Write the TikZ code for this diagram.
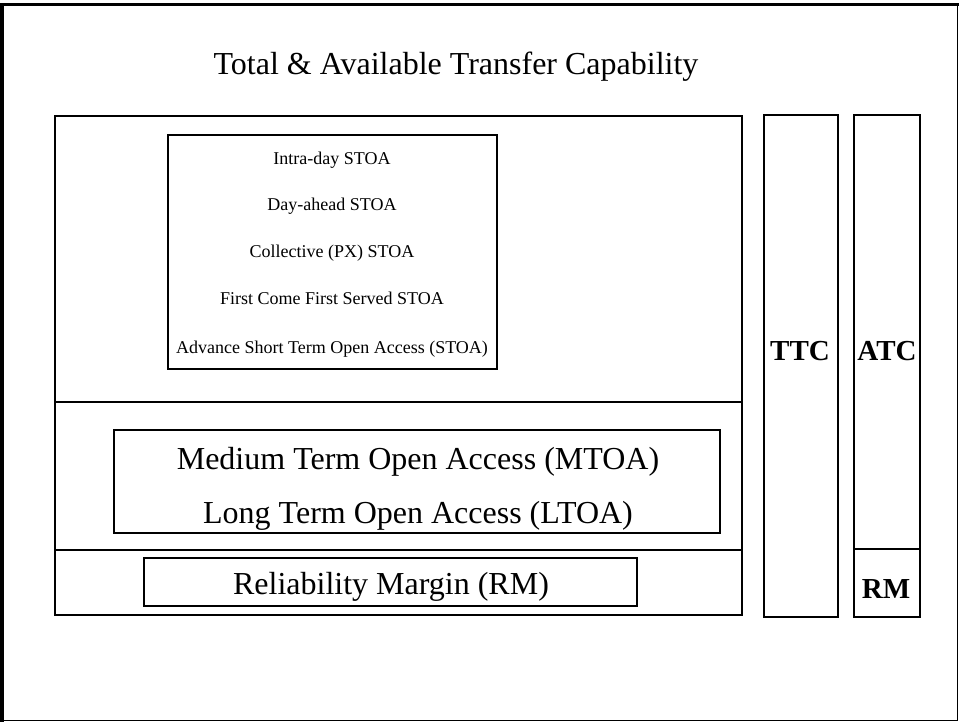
\documentclass[tikz,border=0pt]{standalone}
\usepackage{fontspec}
\setmainfont{Liberation Serif}
\begin{document}
\begin{tikzpicture}[x=1pt,y=-1pt,
  box/.style={draw=black,line width=1.6pt},
  small/.style={font=\fontsize{18}{21}\selectfont,anchor=base},
  large/.style={font=\fontsize{32}{36}\selectfont,anchor=base},
  bold/.style={font=\fontsize{29}{33}\selectfont\bfseries,anchor=base}]
% page area
\useasboundingbox (0,0) rectangle (959,722);
\fill[white] (0,0) rectangle (959,722);
% outer frame: heavier on the left and top edges
\draw[line width=1pt] (957.5,4) -- (957.5,720.5) -- (1.5,720.5);
\draw[line width=3.5pt] (1.75,722) -- (1.75,4.5) -- (959,4.5);

% title
\node[large] (title) at (456,75) {Total \& Available Transfer Capability};

% main stack of access categories
\draw[box] (55,116) rectangle (742,615);
\draw[box] (55,402) -- (742,402);
\draw[box] (55,550) -- (742,550);

% short term open access group
\draw[box] (168,135) rectangle (497,369);
\node[small] (s1) at (332,165) {Intra-day STOA};
\node[small] (s2) at (332,211) {Day-ahead STOA};
\node[small] (s3) at (332,258) {Collective (PX) STOA};
\node[small] (s4) at (332,305) {First Come First Served STOA};
\node[small] (s5) at (332,353) {Advance Short Term Open Access (STOA)};

% medium and long term open access group
\draw[box] (114,430) rectangle (720,533);
\node[large] (m1) at (418,469) {Medium Term Open Access (MTOA)};
\node[large] (m2) at (418,523) {Long Term Open Access (LTOA)};

% reliability margin
\draw[box] (144,558) rectangle (637,606);
\node[large] (rm) at (391,594) {Reliability Margin (RM)};

% TTC column
\draw[box] (764,115) rectangle (838,617);
\node[bold] (ttc) at (800,360) {TTC};

% ATC column with RM at its foot
\draw[box] (854,115) rectangle (920,617);
\draw[box] (854,549) -- (920,549);
\node[bold] (atc) at (887,360) {ATC};
\node[bold] (rmc) at (886,598) {RM};
\end{tikzpicture}
\end{document}
